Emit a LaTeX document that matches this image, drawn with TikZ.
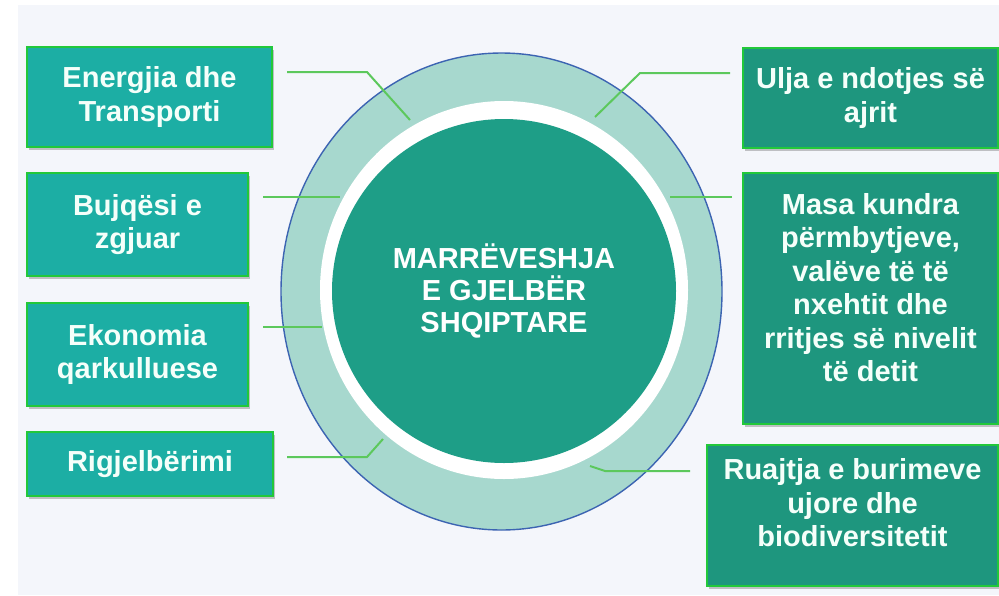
\documentclass[tikz,border=0pt]{standalone}
\usepackage{fontspec}
\setmainfont{Liberation Sans}
\usetikzlibrary{shadows}
\definecolor{bgcol}{RGB}{244,246,251}
\definecolor{leftfill}{RGB}{28,174,164}
\definecolor{rightfill}{RGB}{30,150,126}
\definecolor{boxborder}{RGB}{34,200,58}
\definecolor{darkcirc}{RGB}{30,158,135}
\definecolor{lightring}{RGB}{167,216,206}
\definecolor{blueline}{RGB}{60,100,178}
\definecolor{conncol}{RGB}{92,200,92}
\definecolor{txtcol}{RGB}{245,255,250}
\newcommand{\boxlines}[2]{\raisebox{#1}[\height][\depth]{\begin{tabular}{@{}c@{}}#2\end{tabular}}}
\tikzset{
  boxbase/.style={rectangle, draw=boxborder, line width=2.6pt, text=txtcol,
    align=center, inner sep=0pt,
    font=\fontsize{29}{33.5}\selectfont\bfseries,
    drop shadow={shadow xshift=2pt, shadow yshift=-3pt, opacity=0.22, fill=black}},
  leftbox/.style={boxbase, fill=leftfill},
  rightbox/.style={boxbase, fill=rightfill},
  conn/.style={draw=conncol, line width=2pt},
}
\begin{document}
\begin{tikzpicture}[x=1pt,y=-1pt]
\useasboundingbox (0,0) rectangle (999,595);
\fill[white] (0,0) rectangle (999,595);
\fill[bgcol] (18,5) rectangle (999,595);
% rings
\filldraw[fill=lightring, draw=blueline, line width=1.4pt] (501.5,291.5) ellipse [x radius=220.5, y radius=238.5];
\fill[white] (504,290) ellipse [x radius=184, y radius=189];
\node[circle, fill=darkcirc, minimum size=344pt, inner sep=0pt, text=white, align=center,
  font=\fontsize{29}{32}\selectfont\bfseries] (core) at (504,291) {MARRËVESHJA\\E GJELBËR\\SHQIPTARE};
% boxes
\node[leftbox, minimum width=245pt, minimum height=100pt] (b1) at (149.5,97) {Energjia dhe\\Transporti};
\node[leftbox, minimum width=221pt, minimum height=103pt] (b2) at (137.5,224.5) {Bujqësi e\\zgjuar};
\node[leftbox, minimum width=221pt, minimum height=103pt] (b3) at (137.5,354.5) {Ekonomia\\qarkulluese};
\node[leftbox, minimum width=246pt, minimum height=64pt] (b4) at (150,464) {Rigjelbërimi};
\node[rightbox, minimum width=255pt, minimum height=100pt] (b5) at (870.5,98) {Ulja e ndotjes së\\ajrit};
\node[rightbox, minimum width=255pt, minimum height=251pt] (b6) at (870.5,298.5)
  {\boxlines{7pt}{Masa kundra\\përmbytjeve,\\valëve të të\\nxehtit dhe\\rritjes së nivelit\\të detit}};
\node[rightbox, minimum width=291pt, minimum height=141pt] (b7) at (852.5,515.5)
  {\boxlines{9pt}{Ruajtja e burimeve\\ujore dhe\\biodiversitetit}};
% connector points
\coordinate (c1a) at (287,72);  \coordinate (c1b) at (367,72);  \coordinate (c1c) at (410,120);
\coordinate (c2a) at (263,197); \coordinate (c2b) at (340,197);
\coordinate (c3a) at (263,327); \coordinate (c3b) at (322,327);
\coordinate (c4a) at (287,457); \coordinate (c4b) at (367,457); \coordinate (c4c) at (383,439);
\coordinate (c5a) at (730,73);  \coordinate (c5b) at (640,73);  \coordinate (c5c) at (595,117);
\coordinate (c6a) at (732,197); \coordinate (c6b) at (670,197);
\coordinate (c7a) at (690,471); \coordinate (c7b) at (605,471); \coordinate (c7c) at (590,466);
\draw[conn] (c1a) -- (c1b) -- (c1c);
\draw[conn] (c2a) -- (c2b);
\draw[conn] (c3a) -- (c3b);
\draw[conn] (c4a) -- (c4b) -- (c4c);
\draw[conn] (c5a) -- (c5b) -- (c5c);
\draw[conn] (c6a) -- (c6b);
\draw[conn] (c7a) -- (c7b) -- (c7c);
\end{tikzpicture}
\end{document}
